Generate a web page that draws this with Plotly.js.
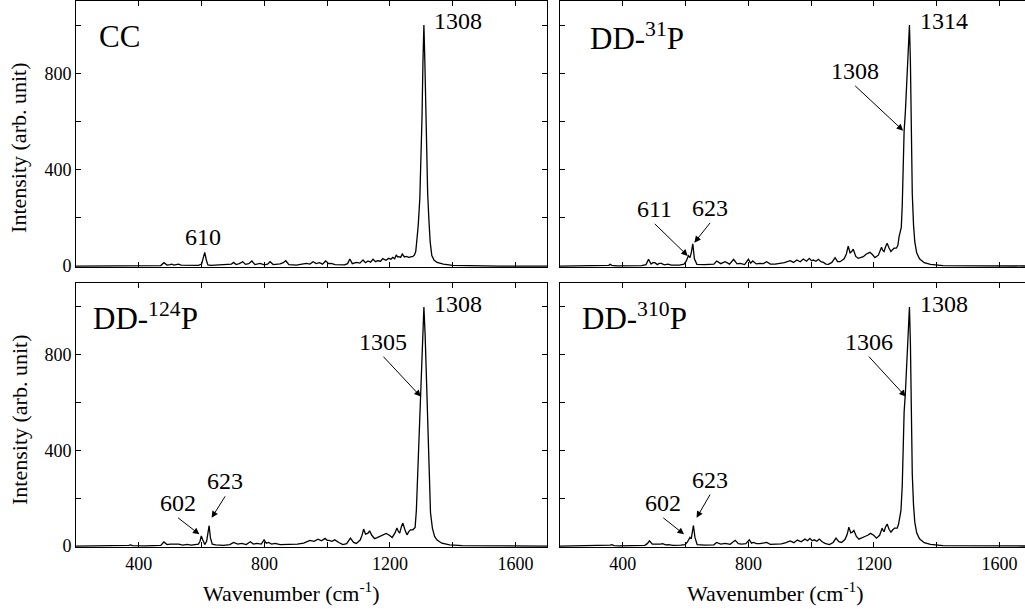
<!DOCTYPE html>
<html><head><meta charset="utf-8">
<script src="https://cdn.plot.ly/plotly-3.0.1.min.js"></script>
<style>html,body{margin:0;padding:0;overflow:hidden;background:#fff}</style>
</head><body><div id="chart" style="width:1025px;height:609px"></div>
<script>
// ---- CC spectrum ----
const ccX = [200,300,350,365,372,380,420,470,480,490,
  500,505,512,520,526,535,560,590,600,605,
  610,615,620,630,650,680,695,702,710,720,
  731,740,750,760,770,786,800,810,818,828,
  839,850,860,868,878,890,902,915,925,934,
  945,955,965,976,985,995,1005,1013,1025,1040,
  1055,1065,1072,1080,1093,1104,1114,1122,1130,1138,
  1146,1154,1161,1170,1177,1187,1196,1203,1209,1215,
  1220,1224,1228,1234,1239,1246,1252,1260,1268,1273,
  1278,1282,1285,1290,1295,1299,1302,1305,1308,1311,
  1314,1317,1320,1324,1328,1333,1340,1350,1370,1400,
  1450,1550,1700];
const ccY = [0,1,1,3,2,1,1,2,14,4,
  6,8,4,6,8,4,3,3,8,30,
  57,25,5,3,4,5,8,15,6,10,
  18,7,10,21,6,11,5,8,18,6,
  7,9,14,22,6,4,4,7,9,11,
  8,18,10,14,8,21,10,11,6,7,
  5,10,29,10,15,12,25,14,21,16,
  28,18,22,20,31,24,32,28,36,30,
  46,38,39,36,50,38,40,36,39,40,
  46,60,100,170,280,450,620,850,1000,850,
  620,430,300,190,100,45,25,15,8,3,
  1,0,0];

// ---- DD-31P spectrum ----
const dd31X = [200,340,355,360,365,380,460,474,482,490,
  496,502,510,516,523,532,544,555,580,595,
  602,609,614,618,623,628,636,660,690,699,
  712,726,740,753,764,774,788,800,807,814,
  825,837,848,858,870,885,900,915,933,944,
  954,965,975,985,994,1001,1007,1015,1023,1031,
  1039,1047,1055,1066,1076,1084,1092,1105,1112,1118,
  1124,1129,1134,1142,1150,1158,1166,1176,1187,1195,
  1203,1214,1224,1228,1232,1237,1242,1248,1254,1259,
  1264,1271,1276,1280,1283,1287,1290,1293,1296,1300,
  1304,1308,1311,1313,1316,1319,1322,1326,1330,1336,
  1345,1360,1380,1420,1500,1700];
const dd31Y = [0,1,3,7,3,1,2,6,28,8,
  14,14,6,11,11,5,8,4,4,8,
  20,43,35,55,92,30,7,6,8,21,
  10,18,8,28,9,11,6,28,12,21,
  9,11,10,18,8,8,10,14,22,15,
  25,18,29,20,32,22,25,20,28,18,
  15,8,7,15,35,18,18,30,50,83,
  55,60,70,40,32,35,39,50,57,48,
  35,45,78,65,60,80,95,75,60,68,
  74,74,85,122,140,160,250,420,560,640,
  760,880,970,1000,850,520,300,170,100,55,
  30,14,7,2,1,0];

// ---- DD-124P spectrum ----
const dd124X = [200,360,368,374,380,420,470,480,490,500,
  506,515,527,540,554,567,580,590,595,599,
  604,610,616,620,624,628,634,645,670,690,
  702,715,728,742,755,765,776,790,799,806,
  813,823,834,850,865,887,905,925,945,958,
  971,982,993,1000,1006,1015,1024,1037,1050,1062,
  1074,1084,1093,1105,1111,1116,1122,1130,1135,1142,
  1151,1159,1167,1178,1188,1198,1207,1216,1222,1227,
  1231,1236,1241,1247,1254,1260,1265,1273,1277,1280,
  1284,1288,1292,1296,1300,1304,1308,1312,1316,1319,
  1322,1325,1329,1335,1342,1350,1365,1390,1430,1700];
const dd124Y = [0,1,3,5,2,1,3,17,6,8,
  8,5,8,4,7,4,8,8,20,42,
  25,6,20,55,85,35,8,5,3,6,
  15,8,11,6,18,8,11,8,26,12,
  15,8,11,6,6,8,8,12,24,20,
  29,22,32,24,24,20,26,15,6,10,
  33,15,11,25,45,71,50,54,64,45,
  31,35,40,48,53,45,36,55,75,60,
  54,80,96,70,47,60,68,68,72,78,
  150,290,430,600,700,830,1000,880,700,550,
  400,280,140,75,40,25,12,5,2,0];

// ---- DD-310P spectrum ----
const dd310X = [200,350,360,365,372,390,470,478,485,494,
  500,506,514,520,527,536,545,560,585,598,
  605,610,614,618,621,625,630,637,660,690,
  699,712,726,742,758,768,779,792,803,810,
  816,826,837,848,858,870,885,905,920,933,
  945,956,968,980,989,996,1003,1010,1018,1026,
  1035,1044,1058,1070,1079,1088,1097,1108,1115,1120,
  1126,1131,1136,1144,1152,1161,1171,1180,1189,1199,
  1208,1218,1226,1229,1232,1237,1242,1248,1254,1260,
  1266,1274,1278,1282,1286,1290,1293,1296,1300,1304,
  1308,1311,1313,1316,1319,1322,1326,1330,1336,1345,
  1360,1380,1420,1500,1700];
const dd310Y = [0,1,4,6,2,1,3,10,22,8,
  8,8,6,8,10,5,6,3,4,6,
  15,30,36,30,50,86,35,6,4,5,
  15,8,11,7,24,10,8,10,26,12,
  15,10,10,12,15,7,8,9,14,21,
  14,25,18,29,22,32,22,26,20,29,
  18,11,6,15,33,18,15,28,50,79,
  55,58,65,40,29,33,40,45,53,45,
  33,45,75,65,60,80,92,70,58,68,
  75,75,90,119,150,250,420,560,640,760,
  880,970,1000,850,520,300,170,100,55,30,
  14,7,2,1,0];

const sampleNames = ['CC', 'DD-<sup>31</sup>P', 'DD-<sup>124</sup>P', 'DD-<sup>310</sup>P'];
const xTitle = 'Wavenumber (cm<sup>-1</sup>)';
const yTitle = 'Intensity (arb. unit)';

const series = [[ccX, ccY], [dd31X, dd31Y], [dd124X, dd124Y], [dd310X, dd310Y]];
const axIds = [['x','y'], ['x2','y2'], ['x3','y3'], ['x4','y4']];

const traces = series.map((s, i) => ({
  type: 'scatter', mode: 'lines', x: s[0], y: s[1],
  xaxis: axIds[i][0], yaxis: axIds[i][1],
  line: {color: 'black', width: 1.3}, showlegend: false, hoverinfo: 'skip'
}));

const FONT = '"Liberation Serif", "Times New Roman", Tinos, serif';

function xa(domain, range, showLabels) {
  return {
    domain: domain, range: range, showline: true, linecolor: 'black', linewidth: 1,
    mirror: 'allticks', ticks: 'inside', ticklen: 5, tickcolor: 'black', tickwidth: 1,
    tick0: 0, dtick: 400, showgrid: false, zeroline: false,
    minor: {dtick: 200, ticks: 'inside', ticklen: 5, tickcolor: 'black', showgrid: false},
    showticklabels: showLabels,
    tickfont: {family: FONT, size: 18, color: 'black'}
  };
}
function ya(domain, showLabels, mirror) {
  return {
    domain: domain, range: [-4, 1100], showline: true, linecolor: 'black', linewidth: 1,
    mirror: mirror, ticks: 'inside', ticklen: 5, tickcolor: 'black', tickwidth: 1,
    tick0: 0, dtick: 400, showgrid: false, zeroline: false,
    minor: {dtick: 200, ticks: 'inside', ticklen: 5, tickcolor: 'black', showgrid: false},
    showticklabels: showLabels,
    tickfont: {family: FONT, size: 18, color: 'black'}
  };
}

const leftDom = [0, 0.4963], rightDom = [0.5100, 1];
const topDom = [0.5128, 1], botDom = [0, 0.4835];
const leftRange = [200, 1700], rightRange = [200, 1681];

// plain peak labels: [panel, text, x, y]
const peakLabels = [
  [0, '1308', 1417, 1017], [0, '610', 604, 121],
  [1, '1314', 1423, 1017],
  [2, '1308', 1417, 1014],
  [3, '1308', 1423, 1014]
];
// labels with arrows: [panel, text, headX, headY, tailX, tailY] (text sits above the tail)
const arrowLabels = [
  [1, '1308', 1293, 562, 1140, 748], [1, '611', 607, 42, 502, 175], [1, '623', 628, 97, 678, 179],
  [2, '1305', 1298, 625, 1179, 792], [2, '602', 593, 49, 525, 118], [2, '623', 632, 118, 675, 208],
  [3, '1306', 1301, 625, 1184, 792], [3, '602', 595, 49, 529, 118], [3, '623', 635, 118, 678, 215]
];
const namePos = [[267, 954], [289, 954], [247, 962], [264, 962]];

const annotations = [];
sampleNames.forEach((n, i) => annotations.push({
  xref: axIds[i][0], yref: axIds[i][1], x: namePos[i][0], y: namePos[i][1],
  text: n, showarrow: false, xanchor: 'left', yanchor: 'middle',
  font: {family: FONT, size: 31, color: 'black'}
}));
peakLabels.forEach(p => annotations.push({
  xref: axIds[p[0]][0], yref: axIds[p[0]][1], x: p[2], y: p[3],
  text: p[1], showarrow: false, xanchor: 'center', yanchor: 'middle',
  font: {family: FONT, size: 24, color: 'black'}
}));
arrowLabels.forEach(a => annotations.push({
  xref: axIds[a[0]][0], yref: axIds[a[0]][1], x: a[2], y: a[3],
  axref: axIds[a[0]][0], ayref: axIds[a[0]][1], ax: a[4], ay: a[5],
  text: a[1], xanchor: 'center', yanchor: 'bottom',
  font: {family: FONT, size: 24, color: 'black'},
  showarrow: true, arrowhead: 2, arrowsize: 1.3, arrowwidth: 1,
  arrowcolor: 'black', standoff: 0, startstandoff: 0
}));
// axis titles (placed as annotations to match offsets)
[0.7308, 0.2326].forEach(yp => annotations.push({
  xref: 'paper', yref: 'paper', x: -0.0601, y: yp, text: yTitle, textangle: -90,
  showarrow: false, xanchor: 'center', yanchor: 'middle',
  font: {family: FONT, size: 22, color: 'black'}
}));
[0.2266, 0.7376].forEach(xp => annotations.push({
  xref: 'paper', yref: 'paper', x: xp, y: -0.0824, text: xTitle,
  showarrow: false, xanchor: 'center', yanchor: 'middle',
  font: {family: FONT, size: 22, color: 'black'}
}));

const layout = {
  width: 1025, height: 609,
  margin: {l: 76, r: 0, t: 1, b: 62},
  paper_bgcolor: 'white', plot_bgcolor: 'white',
  font: {family: FONT, color: 'black'},
  showlegend: false,
  xaxis: Object.assign(xa(leftDom, leftRange, false), {anchor: 'y'}),
  yaxis: Object.assign(ya(topDom, true, 'allticks'), {anchor: 'x'}),
  xaxis2: Object.assign(xa(rightDom, rightRange, false), {anchor: 'y2'}),
  yaxis2: Object.assign(ya(topDom, false, false), {anchor: 'x2'}),
  xaxis3: Object.assign(xa(leftDom, leftRange, true), {anchor: 'y3'}),
  yaxis3: Object.assign(ya(botDom, true, 'allticks'), {anchor: 'x3'}),
  xaxis4: Object.assign(xa(rightDom, rightRange, true), {anchor: 'y4'}),
  yaxis4: Object.assign(ya(botDom, false, false), {anchor: 'x4'}),
  annotations: annotations
};

Plotly.newPlot('chart', traces, layout, {displayModeBar: false, staticPlot: true});
</script>
</body></html>
